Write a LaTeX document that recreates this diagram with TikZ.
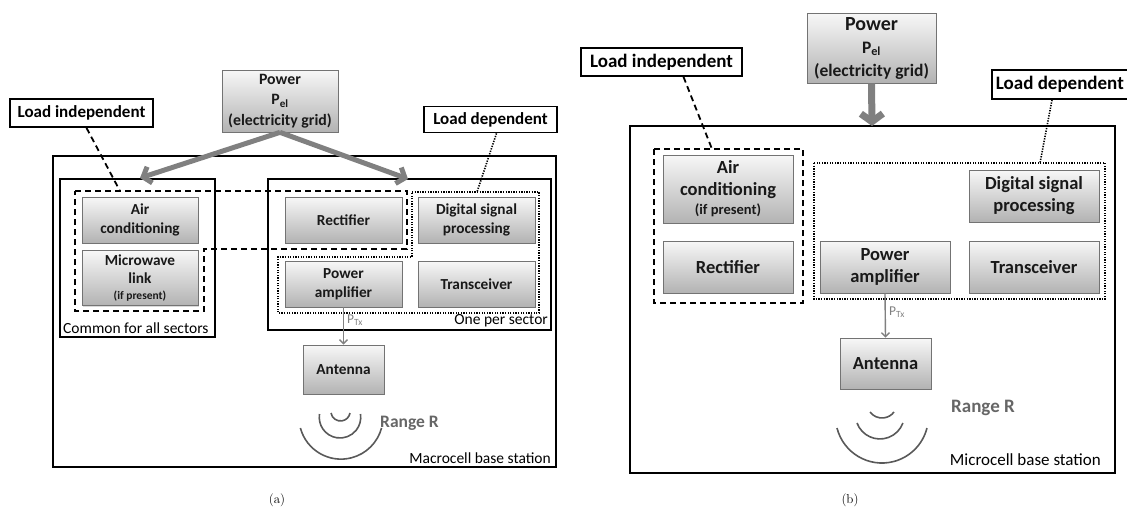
\documentclass[tikz,border=0pt]{standalone}
\usepackage{fontspec}
\newfontfamily\calib{Carlito}
\usetikzlibrary{arrows.meta,shadows}

\tikzset{
  % grey gradient component block
  blk/.style={draw=black!55, line width=0.7pt, top color=black!3, bottom color=black!30,
    drop shadow={shadow xshift=1.3pt, shadow yshift=-1.3pt, opacity=0.3},
    inner sep=0pt, align=center, text=black!90},
  fa/.style={font=\calib\bfseries\fontsize{15.3}{18.5}\selectfont},
  fb/.style={font=\calib\bfseries\fontsize{18.5}{22}\selectfont},
  % white callout labels
  tag/.style={draw=black, line width=1.8pt, fill=white, inner sep=0pt},
  taga/.style={tag, font=\calib\bfseries\fontsize{17}{19}\selectfont},
  tagb/.style={tag, font=\calib\bfseries\fontsize{19}{21}\selectfont},
  frame/.style={draw=black, line width=1.8pt},
  grp/.style={draw=black, line width=1.8pt, dash pattern=on 6pt off 4pt},
  dep/.style={draw=black, line width=1.6pt, dash pattern=on 1.3pt off 1.3pt},
  note/.style={inner sep=0pt, font=\calib\fontsize{15.5}{17}\selectfont},
  noteb/.style={inner sep=0pt, font=\calib\fontsize{17}{19}\selectfont},
  feed/.style={draw=black!50, line width=5pt, -{Straight Barb[length=7pt,width=17pt]}},
  feedb/.style={draw=black!50, line width=7pt, -{Straight Barb[length=8pt,width=22pt]}},
  tx/.style={draw=black!50, line width=1.4pt, -{Straight Barb[length=4pt,width=8pt]}},
  txlbl/.style={inner sep=0pt, text=black!50, font=\calib\fontsize{13.5}{15}\selectfont},
  rnga/.style={inner sep=0pt, text=black!60, font=\calib\bfseries\fontsize{17.5}{19}\selectfont},
  rngb/.style={inner sep=0pt, text=black!60, font=\calib\bfseries\fontsize{19}{21}\selectfont},
  wave/.style={draw=black!65, line width=1.6pt},
  capt/.style={inner sep=0pt, font=\fontsize{13}{15}\selectfont},
}

\begin{document}
\begin{tikzpicture}[x=1pt,y=-1pt]
\useasboundingbox (0,0) rectangle (1127,509);

%% ---------------- (a) macrocell ----------------
\draw[frame] (53,156) rectangle (556,467);
\draw[frame] (60,179) rectangle (215,337);
\draw[frame] (268,179) rectangle (551,330);

% load independent / load dependent groups
\draw[grp] (75,191) -- (407,191) -- (407,249) -- (204,249) -- (204,311) -- (75,311) -- cycle;
\draw[dep] (412,192) -- (539,192) -- (539,313) -- (278,313) -- (278,257) -- (412,257) -- cycle;
\coordinate (grpA) at (120,191);
\coordinate (depA) at (477,192);

\node[blk, font=\calib\bfseries\fontsize{15.8}{20.5}\selectfont, minimum width=116, minimum height=62] (powA) at (280,101)
  {Power\\P\textsubscript{el}\\(electricity grid)};
\node[blk, fa, minimum width=116, minimum height=46] (airA) at (140,220) {Air\\conditioning};
\node[blk, fa, minimum width=116, minimum height=55] (mwA) at (140,278)
  {Microwave\\link\\[-3pt]{\calib\bfseries\fontsize{11.5}{13}\selectfont (if present)}};
\node[blk, fa, minimum width=117, minimum height=46] (recA) at (343.5,220) {Rectifier};
\node[blk, fa, minimum width=117, minimum height=46] (dspA) at (476.5,220) {Digital signal\\processing};
\node[blk, fa, minimum width=117, minimum height=46] (paA) at (343.5,284) {Power\\amplifier};
\node[blk, fa, minimum width=117, minimum height=46] (trxA) at (476.5,284) {Transceiver};
\node[blk, fa, minimum width=81, minimum height=49] (antA) at (343.5,369.5) {Antenna};

\node[taga, minimum width=143, minimum height=28] (indA) at (81.5,113) {Load independent};
\node[taga, minimum width=133, minimum height=26] (ldA) at (490.5,119.5) {Load dependent};

\node[note, anchor=south west] (comA) at (63,334) {Common for all sectors};
\node[note, anchor=south east] (secA) at (548,327) {One per sector};
\node[note, anchor=south east] (macA) at (551,464) {Macrocell base station};

\draw[grp] (indA.south) ++(5,0) coordinate (indAb) -- (grpA);
\draw[dep] (ldA.south) ++(6,0) coordinate (ldAb) -- (depA);

\coordinate (comTop) at (140,178);
\coordinate (secTop) at (408,179);
\draw[feed] (powA.south) -- (comTop);
\draw[feed] (powA.south) -- (secTop);

\draw[tx] (paA.south) -- (antA.north);
\node[txlbl, anchor=west] (ptxA) at (347,320) {P\textsubscript{Tx}};

% radiated waves
\draw[wave] (300.4,428) arc[start angle=165, end angle=15, radius=42];
\draw[wave] (319.5,414) arc[start angle=189, end angle=-9, radius=20.75];
\draw[wave] (331,413) arc[start angle=170, end angle=10, radius=9.65];
\node[rnga, anchor=west] (rngA) at (380,423) {Range R};

\node[capt] (capA) at (277,500) {(a)};

%% ---------------- (b) microcell ----------------
\draw[frame] (630,126) rectangle (1115,473);
\draw[grp] (654,149) rectangle (803,303);
\draw[dep] (814,163) rectangle (1105,299);
\coordinate (grpB) at (712,149);
\coordinate (depB) at (1040,163);

\node[blk, font=\calib\bfseries\fontsize{17.5}{23}\selectfont, minimum width=129, minimum height=70] (powB) at (871.5,48)
  {{\fontsize{20}{23}\selectfont Power}\\P\textsubscript{el}\\(electricity grid)};
\node[blk, fb, minimum width=130, minimum height=68] (airB) at (728,189)
  {Air\\conditioning\\[-3pt]{\calib\bfseries\fontsize{14.5}{16}\selectfont (if present)}};
\node[blk, fb, minimum width=130, minimum height=52] (recB) at (728,267) {Rectifier};
\node[blk, fb, minimum width=130, minimum height=52] (dspB) at (1034,196) {Digital signal\\processing};
\node[blk, fb, minimum width=130, minimum height=52] (paB) at (885,267) {Power\\amplifier};
\node[blk, fb, minimum width=130, minimum height=52] (trxB) at (1034,267) {Transceiver};
\node[blk, fb, minimum width=91, minimum height=51] (antB) at (885.5,363.5) {Antenna};

\node[tagb, minimum width=161, minimum height=28] (indB) at (661.5,62) {Load independent};
\node[tagb, anchor=west, inner xsep=4pt, minimum height=29] (ldB) at (991,84.5) {Load dependent};

\node[noteb, anchor=south east] (micB) at (1101,466) {Microcell base station};

\draw[grp] (indB.south) ++(22,0) coordinate (indBb) -- (grpB);
\draw[dep] (ldB.south west) ++(61,0) coordinate (ldBb) -- (depB);

\coordinate (micTop) at (872,126);
\draw[feedb] (powB.south) -- (micTop);

\draw[tx] (paB.south) -- (antB.north);
\node[txlbl, anchor=west] (ptxB) at (889,312) {P\textsubscript{Tx}};

\draw[wave] (837,428) arc[start angle=165.8, end angle=14.2, radius=46.4];
\draw[wave] (857,423) arc[start angle=159.6, end angle=20.4, radius=24.5];
\draw[wave] (870,412) arc[start angle=143.1, end angle=36.9, radius=15];
\node[rngb, anchor=west] (rngB) at (951,408) {Range R};

\node[capt] (capB) at (850,500) {(b)};
\end{tikzpicture}
\end{document}
